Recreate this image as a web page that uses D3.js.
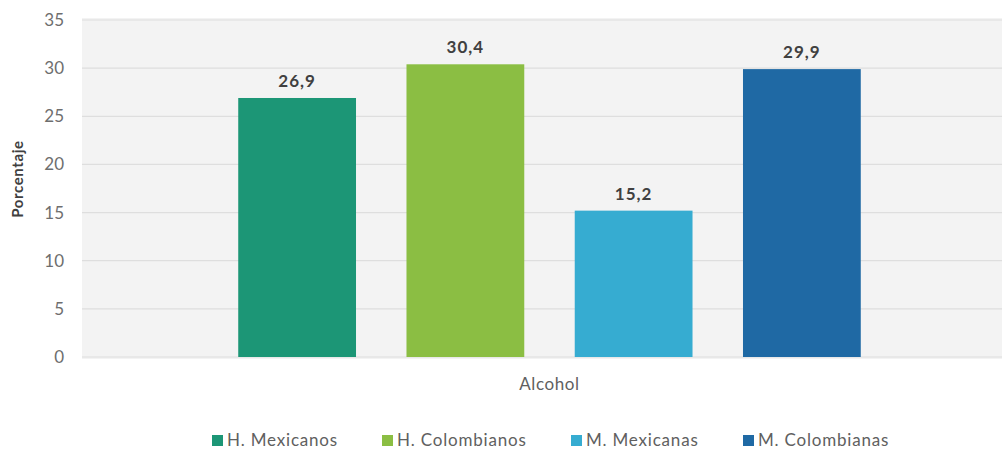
<!DOCTYPE html>
<html>
<head>
<meta charset="utf-8">
<script src="https://cdn.jsdelivr.net/npm/d3@7"></script>
<style>
  html, body { margin: 0; padding: 0; background: #ffffff; }
  svg { display: block; }
  text { font-family: "Lato", "Open Sans", sans-serif; }
</style>
</head>
<body>
<svg id="chart" width="1002" height="451"></svg>
<script>
// Data
const series = ["H. Mexicanos", "H. Colombianos", "M. Mexicanas", "M. Colombianas"];
const values = [26.9, 30.4, 15.2, 29.9];
const colors = ["#1c9676", "#8bbe43", "#36acd1", "#1f69a4"];
const category = "Alcohol";
const yTicks = [0, 5, 10, 15, 20, 25, 30, 35];
const yTitle = "Porcentaje";

const svg = d3.select("#chart");

// Plot area
const plot = { left: 82, right: 1002, top: 18, bottom: 359 };

const y = d3.scaleLinear().domain([0, 35]).range([357, 20]);
const x = d3.scaleBand()
  .domain(series)
  .range([213, 886])
  .paddingInner(0.3)
  .paddingOuter(0.15);

// Background panel
svg.append("rect")
  .attr("x", plot.left).attr("y", plot.top)
  .attr("width", plot.right - plot.left).attr("height", plot.bottom - plot.top)
  .attr("fill", "#f3f3f3");

// Gridlines
svg.append("g")
  .selectAll("line")
  .data(yTicks)
  .join("line")
  .attr("x1", plot.left).attr("x2", plot.right)
  .attr("y1", d => y(d)).attr("y2", d => y(d))
  .attr("stroke", "#dedede")
  .attr("stroke-width", 1.2);

// Y axis labels
const yAxis = d3.axisLeft(y).tickValues(yTicks).tickSize(0).tickPadding(0);
const gy = svg.append("g").attr("transform", "translate(64,0)").call(yAxis);
gy.select(".domain").remove();
gy.selectAll("text")
  .attr("fill", "#6e6e6e")
  .style("font-size", "17px")
  .style("font-family", "Lato, 'Open Sans', sans-serif");

// Y axis title
svg.append("text")
  .attr("transform", "translate(23,179) rotate(-90)")
  .attr("text-anchor", "middle")
  .attr("fill", "#404040")
  .style("font-size", "15px")
  .style("font-weight", "bold")
  .style("letter-spacing", "0.6px")
  .text(yTitle);

// Bars
svg.append("g")
  .selectAll("rect")
  .data(series)
  .join("rect")
  .attr("x", d => x(d))
  .attr("y", (d, i) => y(values[i]))
  .attr("width", x.bandwidth())
  .attr("height", (d, i) => y(0) - y(values[i]))
  .attr("fill", (d, i) => colors[i]);

// Value labels
const fmt = v => d3.format(".1f")(v).replace(".", ",");
svg.append("g")
  .selectAll("text")
  .data(series)
  .join("text")
  .attr("x", d => x(d) + x.bandwidth() / 2)
  .attr("y", (d, i) => y(values[i]) - 11)
  .attr("text-anchor", "middle")
  .attr("fill", "#404040")
  .style("font-size", "17px")
  .style("font-weight", "bold")
  .style("letter-spacing", "1px")
  .text((d, i) => fmt(values[i]));

// Category label
svg.append("text")
  .attr("x", (x(series[0]) + x(series[series.length - 1]) + x.bandwidth()) / 2)
  .attr("y", 390)
  .attr("text-anchor", "middle")
  .attr("fill", "#606060")
  .style("font-size", "17px")
  .style("letter-spacing", "0.6px")
  .text(category);

// Legend
const legendX = [212, 382, 571, 743];
const legend = svg.append("g")
  .selectAll("g")
  .data(series)
  .join("g")
  .attr("transform", (d, i) => `translate(${legendX[i]},440)`);
legend.append("rect")
  .attr("x", 0).attr("y", -5)
  .attr("width", 11).attr("height", 11)
  .attr("fill", (d, i) => colors[i]);
legend.append("text")
  .attr("x", 15).attr("y", 6)
  .attr("fill", "#606060")
  .style("font-size", "17px")
  .style("letter-spacing", "0.8px")
  .text(d => d);
</script>
</body>
</html>
